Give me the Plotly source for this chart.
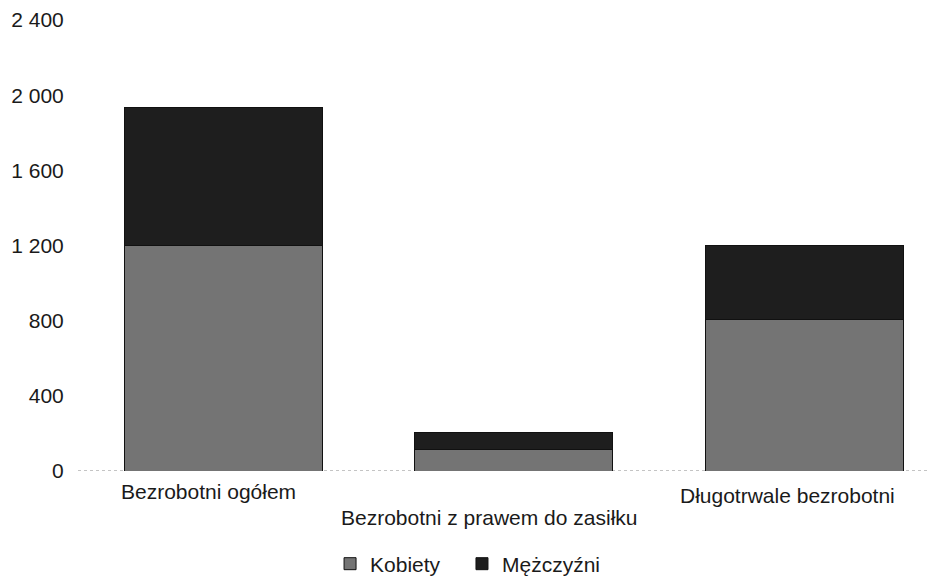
import plotly.graph_objects as go

categories = ["Bezrobotni ogółem", "Bezrobotni z prawem do zasiłku", "Długotrwale bezrobotni"]
kobiety = [1200, 115, 805]
mezczyzni = [736, 88, 395]
y_ticks = [0, 400, 800, 1200, 1600, 2000, 2400]
y_tick_labels = ["0", "400", "800", "1 200", "1 600", "2 000", "2 400"]
label_yshift = [-7, -33, -11]
label_xshift = [-15, -25, -17]

FONT = "Liberation Sans, Arial, sans-serif"

fig = go.Figure()
fig.add_trace(go.Bar(x=categories, y=kobiety, name="Kobiety", legend="legend",
                     marker=dict(color="#747474", line=dict(color="#111111", width=1))))
fig.add_trace(go.Bar(x=categories, y=mezczyzni, name="Mężczyźni", legend="legend2",
                     marker=dict(color="#1e1e1e", line=dict(color="#111111", width=1))))

for c, ys, xs in zip(categories, label_yshift, label_xshift):
    fig.add_annotation(x=c, y=0, xref="x", yref="y", text=c, showarrow=False,
                       yanchor="top", yshift=ys, xshift=xs,
                       font=dict(size=21, color="#1a1a1a", family=FONT))

fig.add_shape(type="line", xref="paper", yref="y", x0=0, x1=1, y0=0, y1=0,
              line=dict(color="#888888", width=1, dash="dot"), layer="below")

legend_common = dict(orientation="h", xref="container", yref="container",
                     y=0.038, xanchor="left", yanchor="middle",
                     itemwidth=30, font=dict(size=21))

fig.update_layout(
    width=937, height=578,
    margin=dict(l=70, r=8, t=12, b=115, autoexpand=False),
    barmode="stack", bargap=0.32,
    plot_bgcolor="white", paper_bgcolor="white",
    font=dict(family=FONT, size=21, color="#1a1a1a"),
    showlegend=True,
    legend=dict(x=0.3437, **legend_common),
    legend2=dict(x=0.4845, **legend_common),
    xaxis=dict(range=[-0.5, 2.457], showticklabels=False, showline=False,
               showgrid=False, zeroline=False, automargin=False),
    yaxis=dict(range=[0, 2400], tickvals=y_ticks, ticktext=y_tick_labels,
               showgrid=False, zeroline=False, showline=False, automargin=False,
               ticks="outside", ticklen=9, tickcolor="rgba(0,0,0,0)"),
)

fig.write_html("out.html")
